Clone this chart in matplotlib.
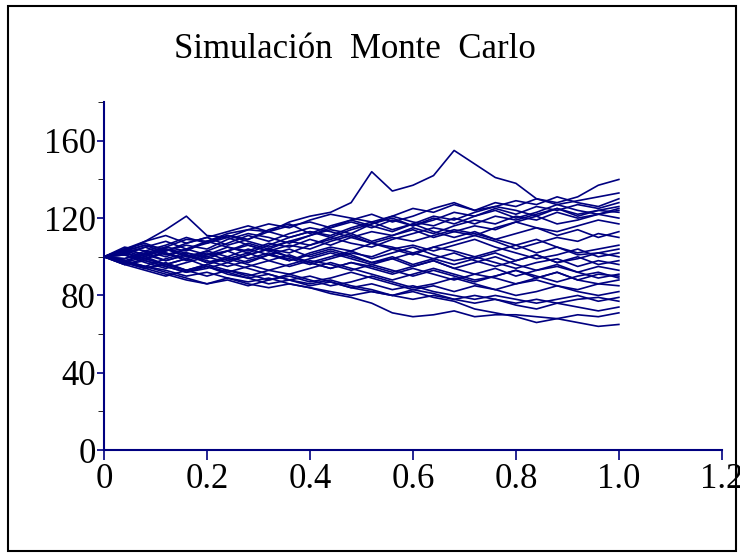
import matplotlib
matplotlib.use("Agg")
import matplotlib.pyplot as plt
import numpy as np
from matplotlib.patches import Rectangle

# Monte Carlo paths, one value every 0.04 on the x axis
path_01 = [100, 104, 101, 105, 109, 108, 112, 114, 113, 118, 121, 123, 128, 144, 134, 137, 142, 155, 148, 141, 138, 130, 128, 131, 137, 140]
path_02 = [100, 103, 108, 114, 121, 111, 110, 114, 117, 115, 119, 122, 120, 118, 121, 125, 123, 127, 124, 128, 126, 130, 127, 129, 131, 133]
path_03 = [100, 97, 102, 105, 103, 108, 111, 109, 114, 117, 112, 116, 119, 122, 118, 121, 125, 128, 124, 126, 129, 127, 131, 128, 126, 130]
path_04 = [100, 104, 107, 103, 106, 104, 109, 112, 110, 107, 111, 114, 112, 117, 120, 116, 119, 123, 121, 125, 122, 126, 124, 127, 125, 128]
path_05 = [100, 102, 99, 103, 107, 110, 106, 109, 113, 116, 118, 115, 119, 116, 113, 117, 121, 119, 123, 126, 124, 121, 125, 122, 124, 126]
path_06 = [100, 96, 99, 102, 98, 101, 105, 103, 107, 105, 109, 106, 110, 113, 111, 115, 112, 116, 119, 117, 121, 119, 123, 120, 122, 124]
path_07 = [100, 105, 103, 100, 104, 108, 105, 102, 106, 110, 113, 110, 114, 117, 121, 118, 116, 120, 117, 121, 119, 122, 125, 121, 124, 123]
path_08 = [100, 101, 105, 108, 104, 101, 103, 107, 104, 108, 106, 110, 107, 105, 109, 112, 115, 113, 116, 114, 118, 121, 117, 119, 122, 120]
path_09 = [100, 98, 95, 99, 102, 100, 97, 101, 104, 102, 106, 109, 112, 108, 111, 114, 110, 113, 111, 115, 118, 115, 113, 116, 119, 117]
path_10 = [100, 103, 106, 104, 100, 103, 107, 111, 108, 112, 115, 113, 110, 107, 110, 108, 111, 114, 112, 109, 112, 115, 111, 114, 110, 113]
path_11 = [100, 99, 102, 98, 101, 97, 100, 104, 101, 98, 102, 105, 103, 107, 105, 102, 105, 108, 111, 108, 104, 107, 110, 108, 112, 110]
path_12 = [100, 104, 108, 111, 107, 110, 113, 116, 113, 110, 113, 111, 115, 118, 114, 117, 113, 110, 113, 109, 106, 109, 105, 102, 104, 106]
path_13 = [100, 97, 100, 96, 99, 103, 100, 97, 101, 99, 96, 99, 102, 100, 104, 101, 105, 103, 100, 103, 106, 102, 105, 101, 102, 104]
path_14 = [100, 102, 105, 101, 104, 107, 110, 106, 103, 106, 104, 108, 111, 107, 104, 106, 103, 106, 109, 105, 102, 99, 101, 104, 100, 102]
path_15 = [100, 98, 101, 104, 101, 98, 95, 98, 101, 104, 100, 103, 100, 97, 99, 102, 99, 96, 99, 102, 98, 101, 97, 99, 102, 100]
path_16 = [100, 101, 97, 94, 97, 100, 103, 99, 102, 98, 101, 104, 101, 97, 100, 96, 99, 102, 98, 95, 98, 101, 97, 100, 96, 98]
path_17 = [100, 103, 100, 104, 102, 99, 103, 106, 103, 100, 97, 100, 103, 99, 102, 105, 101, 98, 100, 97, 94, 97, 99, 95, 98, 96]
path_18 = [100, 97, 94, 97, 93, 96, 99, 102, 98, 95, 98, 96, 93, 96, 99, 95, 98, 94, 97, 100, 96, 93, 95, 92, 95, 93]
path_19 = [100, 102, 99, 96, 99, 95, 92, 95, 98, 101, 97, 94, 97, 95, 92, 95, 98, 94, 91, 94, 90, 93, 96, 92, 89, 91]
path_20 = [100, 96, 93, 90, 93, 96, 93, 90, 93, 91, 94, 97, 94, 91, 88, 91, 94, 91, 88, 90, 93, 90, 87, 90, 92, 89]
path_21 = [100, 103, 106, 102, 99, 102, 98, 101, 104, 100, 97, 94, 97, 94, 91, 94, 91, 88, 91, 89, 86, 89, 92, 88, 86, 88]
path_22 = [100, 97, 95, 92, 89, 86, 88, 85, 88, 91, 88, 85, 87, 90, 87, 84, 86, 89, 86, 83, 86, 88, 85, 83, 86, 85]
path_23 = [100, 98, 94, 96, 93, 90, 93, 91, 88, 90, 87, 89, 92, 89, 86, 83, 85, 82, 85, 83, 80, 82, 85, 82, 80, 82]
path_24 = [100, 101, 98, 95, 92, 94, 97, 94, 91, 88, 90, 87, 84, 86, 83, 85, 82, 80, 78, 80, 78, 76, 78, 80, 77, 79]
path_25 = [100, 96, 98, 95, 92, 95, 91, 89, 86, 88, 85, 87, 84, 82, 80, 83, 81, 78, 80, 78, 76, 78, 76, 78, 79, 77]
path_26 = [100, 97, 94, 91, 88, 86, 89, 86, 84, 86, 84, 82, 80, 82, 80, 78, 80, 78, 76, 78, 75, 73, 76, 74, 72, 74]
path_27 = [100, 98, 95, 93, 90, 92, 89, 87, 89, 86, 84, 81, 79, 76, 71, 69, 70, 72, 69, 70, 70, 69, 68, 70, 69, 71]
path_28 = [100, 102, 99, 96, 93, 95, 92, 89, 91, 88, 86, 88, 85, 83, 80, 82, 79, 77, 73, 71, 69, 66, 68, 66, 64, 65]
path_29 = [100, 99, 103, 106, 110, 107, 111, 108, 105, 108, 111, 115, 118, 115, 119, 116, 120, 117, 121, 124, 120, 123, 127, 124, 122, 125]
path_30 = [100, 104, 101, 98, 101, 97, 99, 96, 93, 96, 99, 102, 99, 96, 93, 90, 93, 90, 87, 90, 93, 89, 92, 88, 91, 90]

paths = [path_01, path_02, path_03, path_04, path_05, path_06, path_07, path_08, path_09, path_10,
         path_11, path_12, path_13, path_14, path_15, path_16, path_17, path_18, path_19, path_20,
         path_21, path_22, path_23, path_24, path_25, path_26, path_27, path_28, path_29, path_30]

x_ticks = [0, 0.2, 0.4, 0.6, 0.8, 1.0, 1.2]
x_labels = ["0", "0.2", "0.4", "0.6", "0.8", "1.0", "1.2"]
y_ticks = [0, 40, 80, 120, 160]
y_labels = ["0", "40", "80", "120", "160"]

navy = "#000080"
plt.rcParams["font.family"] = ["Liberation Serif", "DejaVu Serif"]

fig = plt.figure(figsize=(7.4, 5.55), dpi=100)
ax = fig.add_axes([0.1405, 0.189, 0.835, 0.627])

for p in paths:
    t = np.linspace(0, 1, len(p))
    ax.plot(t, p, color=navy, linewidth=1.2)

ax.set_xlim(0, 1.2)
ax.set_ylim(0, 180)
ax.set_xticks(x_ticks)
ax.set_xticklabels(x_labels)
ax.set_yticks(y_ticks)
ax.set_yticklabels(y_labels)
ax.set_yticks([20, 60, 100, 140, 180], minor=True)
ax.tick_params(axis="both", colors=navy, labelcolor="black", labelsize=25, width=1.2)
ax.tick_params(axis="y", length=5, pad=1)
ax.tick_params(axis="y", which="minor", length=4)
ax.tick_params(axis="x", length=7, pad=2)

for side in ["top", "right"]:
    ax.spines[side].set_visible(False)
for side in ["left", "bottom"]:
    ax.spines[side].set_color(navy)
    ax.spines[side].set_linewidth(1.5)

fig.text(0.48, 0.895, "Simulación  Monte  Carlo", ha="center", va="baseline", fontsize=25)

# outer frame of the picture
fig.patches.append(Rectangle((0.011, 0.007), 0.983, 0.982, transform=fig.transFigure,
                             fill=False, edgecolor="black", linewidth=1.5))

fig.savefig("out.png", dpi=100)
